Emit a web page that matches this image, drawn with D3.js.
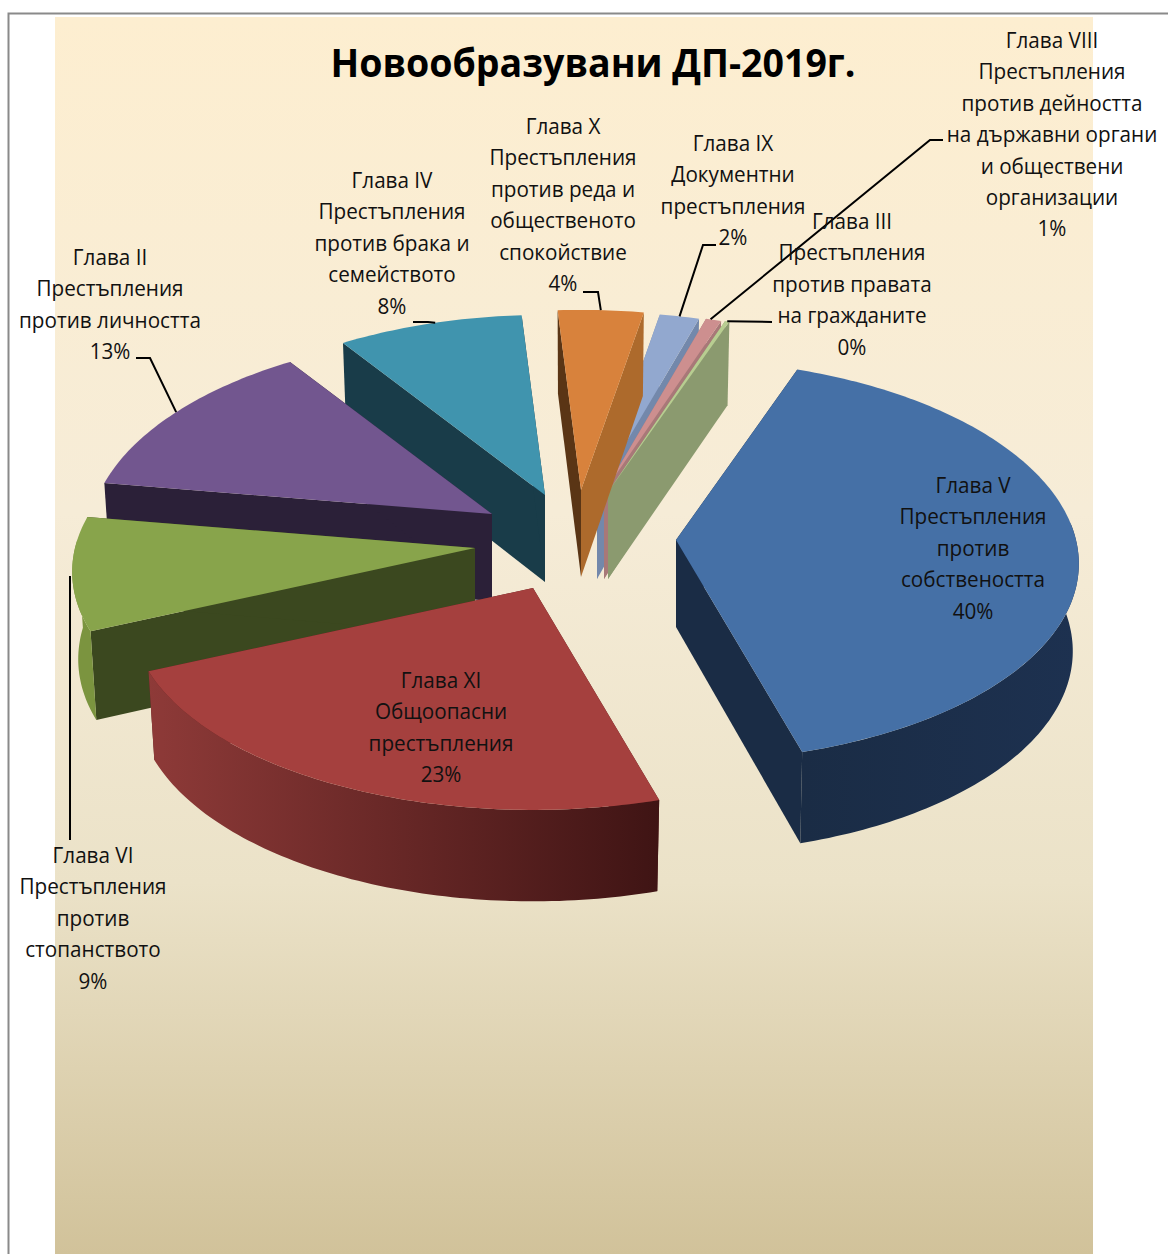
<!DOCTYPE html>
<html>
<head>
<meta charset="utf-8">
<script src="https://cdn.jsdelivr.net/npm/d3@7"></script>
<style>
  html, body { margin: 0; padding: 0; background: #fff; }
  svg { display: block; }
  text { font-family: "Open Sans", "Noto Sans", sans-serif; fill: #111; }
</style>
</head>
<body>
<svg id="chart"></svg>
<script>
// Chart data
const chartTitle = 'Новообразувани ДП-2019г.';
const chapterLabels = [
  ['Глава V', 'Престъпления', 'против', 'собствеността'],
  ['Глава XI', 'Общоопасни', 'престъпления'],
  ['Глава VI', 'Престъпления', 'против', 'стопанството'],
  ['Глава II', 'Престъпления', 'против личността'],
  ['Глава IV', 'Престъпления', 'против брака и', 'семейството'],
  ['Глава X', 'Престъпления', 'против реда и', 'общественото', 'спокойствие'],
  ['Глава IX', 'Документни', 'престъпления'],
  ['Глава VIII', 'Престъпления', 'против дейността', 'на държавни органи', 'и обществени', 'организации'],
  ['Глава III', 'Престъпления', 'против правата', 'на гражданите']
];
const shares = [39.8, 23, 9, 13, 8.4, 3.9, 1.8, 0.7, 0.2];

// Slice colours: top face, radial walls, curved wall (left and right end)
const topColors = ['#4570a6', '#a5403e', '#88a44b', '#72568f', '#4094ae', '#d8823c', '#92a8cf', '#cd8f8f', '#b8cd91'];
const startWallColors = ['#1a2c45', '#5a2020', '#3b481f', '#2b2038', '#193c49', '#5a3515', '#7a8db0', '#a87878', '#8b9a6f'];
const endWallColors = ['#1a2c45', '#5a2020', '#3b481f', '#2b2038', '#193c49', '#ad6a2c', '#7388ab', '#a87878', '#8b9a6f'];
const curveLeftColors = ['#1a2c45', '#8e3a38', '#7b943f', '#2b2038', '#193c49', '#5a3515', '#7388ab', '#a87878', '#8b9a6f'];
const curveRightColors = ['#1d3150', '#3f1414', '#7b943f', '#2b2038', '#193c49', '#5a3515', '#7388ab', '#a87878', '#8b9a6f'];

// Explosion of each slice away from the pie centre, in pixels
const explodeX = [91, -52, -110, -93, -40, -4, 12, 19, 23];
const explodeY = [-5, 43, 3, -31, -50, -55, -53, -53, -53];

// Label placement: centre x, first baseline
const labelX = [973, 441, 93, 110, 392, 563, 733, 1052, 852];
const labelY = [493, 688, 863, 265, 188, 134, 151, 48, 229];

// Leader lines: label side points, then the place on the slice rim they reach (0..1 along the arc)
const leaderStart = [null, null, [[70, 840]], [[136, 358], [150, 358]], [[413, 322], [428, 322]],
  [[583, 292], [598, 292]], [[716, 245], [703, 245]], [[943, 140], [930, 140]], [[772, 322]]];
const leaderRim = [0, 0, 0.48, 0.5, 0.53, 0.5, 0.5, 0.3, 0.5];

// Far slices first, near slices last
const drawOrder = [6, 7, 8, 5, 4, 3, 0, 2, 1];

const config = {
  width: 1168, height: 1254,
  cx: 585, cy: 545,
  rx: 400, ry: 201,
  perspectiveX: 0.12, perspectiveY: 0.104,
  depth: 87,
  startDeg: 20
};

const svg = d3.select('#chart')
  .attr('width', config.width)
  .attr('height', config.height);
const defs = svg.append('defs');

// Background of the chart area
const bgGradient = defs.append('linearGradient')
  .attr('id', 'bg-gradient')
  .attr('x1', 0).attr('y1', 0).attr('x2', 0).attr('y2', 1);
[[0, '#fdeed0'], [0.4, '#f6ecd7'], [0.7, '#ebe2c8'], [1, '#d1c29a']].forEach(s => {
  bgGradient.append('stop').attr('offset', s[0]).attr('stop-color', s[1]);
});
svg.append('rect')
  .attr('x', 55).attr('y', 17)
  .attr('width', 1038).attr('height', 1237)
  .attr('fill', 'url(#bg-gradient)');
svg.append('path')
  .attr('d', `M8.5,${config.height} V13.5 H${config.width}`)
  .attr('fill', 'none')
  .attr('stroke', '#8a8a8a')
  .attr('stroke-width', 2);

// Pie layout gives the angles, the projection below tilts them into 3D
const pie = d3.pie()
  .sort(null)
  .startAngle(config.startDeg * Math.PI / 180)
  .endAngle((config.startDeg + 360) * Math.PI / 180);
const arcs = pie(shares);

// Project an angle on the rim, relative to the slice apex
function rim(angle) {
  const c = Math.cos(angle);
  return [
    config.rx * Math.sin(angle) * (1 - config.perspectiveX * c),
    -config.ry * c * (1 - config.perspectiveY * c)
  ];
}

function apexOf(i) {
  return [config.cx + explodeX[i], config.cy + explodeY[i]];
}

function topPoint(i, angle) {
  const a = apexOf(i), p = rim(angle);
  return [a[0] + p[0], a[1] + p[1]];
}

function bottomPoint(i, angle) {
  const a = apexOf(i), p = rim(angle);
  return [a[0] + p[0] * 0.985, a[1] + p[1] * 1.02 + config.depth];
}

function anglesBetween(a0, a1) {
  const n = Math.max(2, Math.ceil((a1 - a0) / (Math.PI / 180)));
  return d3.range(n + 1).map(k => a0 + (a1 - a0) * k / n);
}

const polygon = d3.line();

function radialWall(i, angle) {
  const a = apexOf(i);
  return polygon([topPoint(i, angle), a, [a[0], a[1] + config.depth], bottomPoint(i, angle)]) + 'Z';
}

const sliceG = svg.append('g').attr('class', 'slices');

drawOrder.forEach(i => {
  const d = arcs[i];
  const g = sliceG.append('g').attr('class', 'slice');

  // Radial walls go first, the curved wall and top face sit over them
  g.append('path').attr('d', radialWall(i, d.startAngle)).attr('fill', startWallColors[i]);
  g.append('path').attr('d', radialWall(i, d.endAngle)).attr('fill', endWallColors[i]);

  // Curved wall only where the rim faces the viewer
  const front0 = Math.max(d.startAngle, 85 * Math.PI / 180);
  const front1 = Math.min(d.endAngle, 272 * Math.PI / 180);
  if (front1 > front0) {
    const angles = anglesBetween(front0, front1);
    const tops = angles.map(a => topPoint(i, a));
    const bottoms = angles.map(a => bottomPoint(i, a)).reverse();
    const xs = d3.extent(tops, p => p[0]);
    const gradient = defs.append('linearGradient')
      .attr('id', `curve-${i}`)
      .attr('gradientUnits', 'userSpaceOnUse')
      .attr('x1', xs[0]).attr('y1', 0).attr('x2', xs[1]).attr('y2', 0);
    gradient.append('stop').attr('offset', 0).attr('stop-color', curveLeftColors[i]);
    gradient.append('stop').attr('offset', 1).attr('stop-color', curveRightColors[i]);
    g.append('path')
      .attr('d', polygon(tops.concat(bottoms)) + 'Z')
      .attr('fill', `url(#curve-${i})`);
  }

  // Top face
  const face = [apexOf(i)].concat(anglesBetween(d.startAngle, d.endAngle).map(a => topPoint(i, a)));
  g.append('path')
    .attr('d', polygon(face) + 'Z')
    .attr('fill', topColors[i]);
});

// Leader lines
const leaderG = svg.append('g').attr('class', 'leaders');
arcs.forEach((d, i) => {
  if (!leaderStart[i]) return;
  const end = topPoint(i, d.startAngle + (d.endAngle - d.startAngle) * leaderRim[i]);
  const pts = leaderStart[i].concat([[end[0], end[1]]]);
  if (i === 2) pts[1][0] = pts[0][0];
  leaderG.append('path')
    .attr('d', polygon(pts))
    .attr('fill', 'none')
    .attr('stroke', '#000')
    .attr('stroke-width', 2);
});

// Title
svg.append('text')
  .attr('x', 593)
  .attr('y', 77)
  .attr('text-anchor', 'middle')
  .attr('font-size', 40)
  .attr('font-weight', 700)
  .attr('textLength', 525)
  .attr('lengthAdjust', 'spacingAndGlyphs')
  .style('fill', '#000')
  .text(chartTitle);

// Data labels, narrowed a little because the source face is condensed
const lineStep = 31.4;
const fmtShare = v => `${Math.round(v)}%`;
const labelG = svg.append('g').attr('class', 'labels');
arcs.forEach((d, i) => {
  const lines = chapterLabels[i].concat([fmtShare(shares[i])]);
  lines.forEach((line, k) => {
    labelG.append('text')
      .attr('transform', `translate(${labelX[i]},${labelY[i] + k * lineStep}) scale(0.94,1)`)
      .attr('text-anchor', 'middle')
      .attr('font-size', 22)
      .text(line);
  });
});
</script>
</body>
</html>
